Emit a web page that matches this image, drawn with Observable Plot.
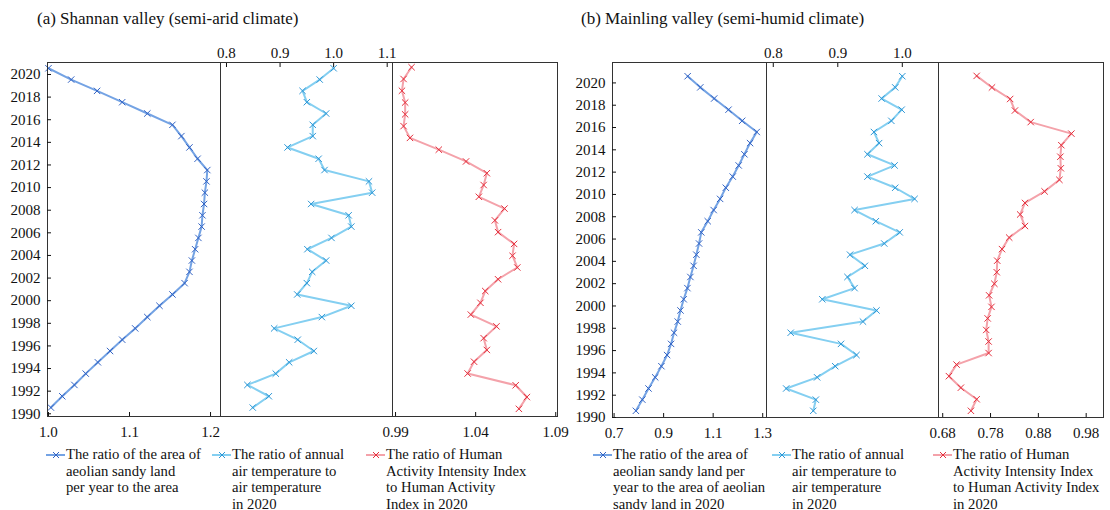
<!DOCTYPE html>
<html><head><meta charset="utf-8">
<script src="https://cdn.jsdelivr.net/npm/d3@7"></script>
<script src="https://cdn.jsdelivr.net/npm/@observablehq/plot@0.6"></script>
<style>
body{margin:0;background:#fff;}
#chart{position:relative;width:1110px;height:510px;font-family:"Liberation Serif","Times New Roman",serif;color:#111;overflow:hidden;}
.title{position:absolute;top:9px;font-size:17px;white-space:nowrap;}
.panel{position:absolute;top:0;}
.leg{position:absolute;font-size:14.7px;line-height:16.5px;white-space:nowrap;}
.sym{position:absolute;}
</style></head><body><div id="chart"></div><script>
// Years (top to bottom)
const years31 = d3.range(2020, 1989, -1);   // 2020..1990
const years30 = d3.range(2020, 1990, -1);   // 2020..1991 (HAI series has 30 points)
const yearTicks = d3.range(1990, 2021, 2);

// (a) Shannan valley
const shannanArea = [1.000,1.028,1.060,1.091,1.122,1.153,1.164,1.174,1.184,1.196,1.195,1.193,1.192,1.190,1.189,1.185,1.181,1.177,1.174,1.168,1.153,1.137,1.122,1.107,1.091,1.076,1.061,1.046,1.032,1.017,1.003];
const shannanTemp = [1.000,0.974,0.942,0.950,0.986,0.961,0.961,0.914,0.972,0.983,1.066,1.072,0.958,1.028,1.033,0.996,0.951,0.986,0.960,0.950,0.932,1.033,0.978,0.889,0.933,0.963,0.917,0.892,0.839,0.879,0.849];
const shannanHAI = [1.000,0.995,0.994,0.996,0.996,0.995,0.999,1.017,1.034,1.047,1.045,1.042,1.058,1.052,1.054,1.064,1.063,1.066,1.054,1.046,1.043,1.037,1.053,1.045,1.047,1.039,1.035,1.065,1.072,1.067];

// (b) Mainling valley
const mainlingArea = [0.997,1.048,1.104,1.162,1.217,1.276,1.249,1.226,1.203,1.179,1.151,1.128,1.102,1.078,1.052,1.043,1.032,1.021,1.008,0.996,0.981,0.968,0.957,0.942,0.930,0.914,0.891,0.866,0.839,0.814,0.788];
const mainlingTemp = [1.000,0.989,0.968,0.999,0.983,0.956,0.964,0.946,0.988,0.946,0.989,1.019,0.926,0.959,0.996,0.972,0.919,0.942,0.915,0.926,0.876,0.960,0.939,0.827,0.905,0.929,0.896,0.868,0.820,0.866,0.862];
const mainlingHAI = [0.751,0.783,0.821,0.831,0.864,0.949,0.928,0.926,0.927,0.924,0.893,0.852,0.842,0.852,0.819,0.804,0.794,0.793,0.788,0.777,0.782,0.774,0.771,0.776,0.776,0.709,0.693,0.718,0.751,0.739];

// Tick labels
const ticksAreaA = [1.0, 1.1, 1.2];
const ticksTempA = [0.8, 0.9, 1.0, 1.1];
const ticksHAIA = [0.99, 1.04, 1.09];
const ticksAreaB = [0.7, 0.9, 1.1, 1.3];
const ticksTempB = [0.8, 0.9, 1.0];
const ticksHAIB = [0.68, 0.78, 0.88, 0.98];

const titles = ["(a) Shannan valley (semi-arid climate)", "(b) Mainling valley (semi-humid climate)"];
const legendA = [
  "The ratio of the area of<br>aeolian sandy land<br>per year to the area",
  "The ratio of annual<br>air temperature to<br>air temperature<br>in 2020",
  "The ratio of Human<br>Activity Intensity Index<br>to Human Activity<br>Index in 2020"];
const legendB = [
  "The ratio of the area of<br>aeolian sandy land per<br>year to the area of aeolian<br>sandy land in 2020",
  "The ratio of annual<br>air temperature to<br>air temperature<br>in 2020",
  "The ratio of Human<br>Activity Intensity Index<br>to Human Activity Index<br>in 2020"];

const colors = {
  area: {line: "#74a3e4", dot: "#3363c4"},
  temp: {line: "#84cff1", dot: "#2d97d6"},
  hai:  {line: "#f4a2aa", dot: "#e5303d"}
};

const chart = document.getElementById("chart");
const FONT = '"Liberation Serif","Times New Roman",serif';

function panel(o) {
  const pad = 30, H = 460;
  const data = o.years.map((y, i) => ({year: y, v: o.values[i]}));
  const marks = [
    Plot.line(data, {x: "v", y: d => d.year + o.yOff, stroke: o.color.line, strokeWidth: 2}),
    Plot.dot(data, {x: "v", y: d => d.year + o.yOff, symbol: "times", r: 3, stroke: o.color.dot, strokeWidth: 1}),
    Plot.frame({stroke: "#333", strokeWidth: 1}),
    Plot.axisX(o.xTicks, {anchor: o.xAnchor, label: null, tickSize: -4, tickPadding: o.xAnchor === "top" ? 9 : 14,
      tickFormat: d3.format(o.fmt), fontSize: 15, fill: "#111"})
  ];
  if (o.yAxis) marks.push(Plot.axisY(yearTicks, {anchor: "left", label: null, tickSize: -4, tickPadding: 11, tickFormat: "d", fontSize: 15, fill: "#111"}));
  const p = Plot.plot({
    width: o.fr - o.fl + 2 * pad, height: H,
    marginLeft: pad, marginRight: pad, marginTop: o.ft, marginBottom: H - o.fb,
    x: {domain: o.xDomain, axis: null, label: null},
    y: {domain: o.yDomain, axis: null, label: null},
    style: {fontFamily: FONT, fontSize: "15px", color: "#111", background: "transparent", overflow: "visible"},
    marks
  });
  p.classList.add("panel");
  p.style.left = (o.fl - pad) + "px";
  chart.appendChild(p);
}

function legend(x, text, color) {
  const ns = "http://www.w3.org/2000/svg";
  const s = document.createElementNS(ns, "svg");
  s.setAttribute("width", 20); s.setAttribute("height", 10);
  s.setAttribute("class", "sym");
  s.style.left = (x - 20) + "px"; s.style.top = "450px";
  s.innerHTML = `<line x1="0" y1="5" x2="19" y2="5" stroke="${color.line}" stroke-width="2"/>` +
    `<path d="M7,2L13,8M13,2L7,8" stroke="${color.dot}" stroke-width="1"/>`;
  chart.appendChild(s);
  const d = document.createElement("div");
  d.className = "leg"; d.style.left = x + "px"; d.style.top = "446px";
  d.innerHTML = text;
  chart.appendChild(d);
}

// Titles
[[37, titles[0]], [581, titles[1]]].forEach(([x, t]) => {
  const d = document.createElement("div"); d.className = "title"; d.style.left = x + "px"; d.textContent = t; chart.appendChild(d);
});

// (a) panels
const A = {ft: 62, fb: 416, yDomain: [1989.76, 2021.06], yOff: 0.55};
panel({...A, fl: 47, fr: 220, xDomain: [0.9988, 1.2123], xTicks: ticksAreaA, fmt: ".1f", xAnchor: "bottom", yAxis: true, years: years31, values: shannanArea, color: colors.area});
panel({...A, fl: 220, fr: 392, xDomain: [0.7888, 1.1099], xTicks: ticksTempA, fmt: ".1f", xAnchor: "top", years: years31, values: shannanTemp, color: colors.temp});
panel({...A, fl: 392, fr: 557, yDomain: [1990.35, 2020.4], yOff: 0, xDomain: [0.9881, 1.0911], xTicks: ticksHAIA, fmt: ".2f", xAnchor: "bottom", years: years30, values: shannanHAI, color: colors.hai});

// (b) panels
const B = {ft: 62, fb: 417, yDomain: [1990.0, 2021.83], yOff: 0.6};
panel({...B, fl: 612, fr: 766, xDomain: [0.6936, 1.3153], xTicks: ticksAreaB, fmt: ".1f", xAnchor: "bottom", yAxis: true, years: years31, values: mainlingArea, color: colors.area});
panel({...B, fl: 766, fr: 938, xDomain: [0.7895, 1.0561], xTicks: ticksTempB, fmt: ".1f", xAnchor: "top", years: years31, values: mainlingTemp, color: colors.temp});
panel({...B, fl: 938, fr: 1103, yDomain: [1990.42, 2021.16], yOff: 0, xDomain: [0.6712, 1.0162], xTicks: ticksHAIB, fmt: ".2f", xAnchor: "bottom", years: years30, values: mainlingHAI, color: colors.hai});

// Legends
legend(66, legendA[0], colors.area);
legend(232, legendA[1], colors.temp);
legend(386, legendA[2], colors.hai);
legend(613, legendB[0], colors.area);
legend(792, legendB[1], colors.temp);
legend(953, legendB[2], colors.hai);
</script></body></html>
